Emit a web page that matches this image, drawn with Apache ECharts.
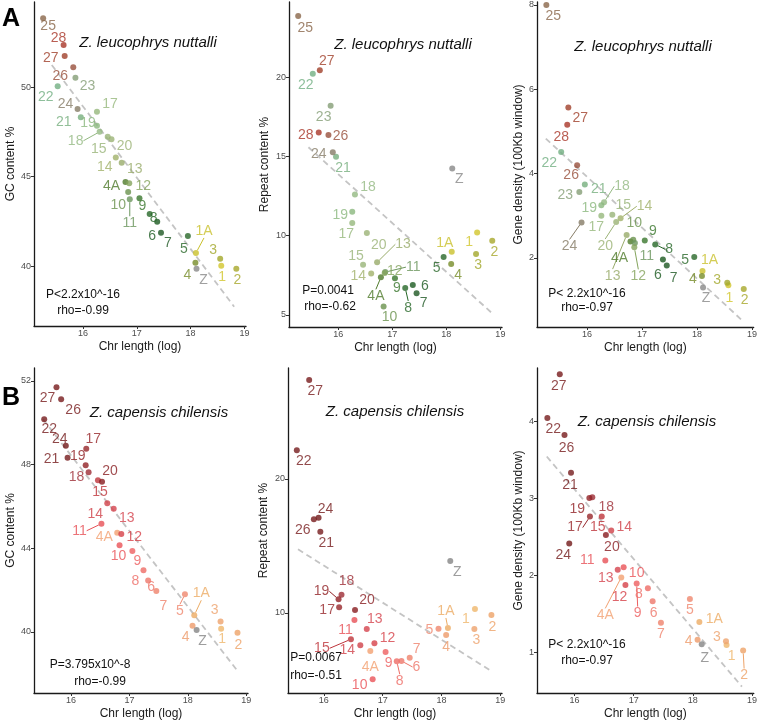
<!DOCTYPE html>
<html><head><meta charset="utf-8">
<script src="https://cdn.jsdelivr.net/npm/echarts@6/dist/echarts.min.js"></script>
<style>html,body{margin:0;padding:0;background:#fff}#c{width:760px;height:722px}</style>
</head><body><div id="c"></div>
<script>
// ---------------- DATA ----------------
const chrA = ['1','1A','2','3','4','4A','5','6','7','8','9','10','11','12','13','14','15','17','18','19','20','21','22','23','24','25','26','27','28','Z'];
const lenA = [18.57,18.10,18.85,18.55,18.09,16.79,17.95,17.38,17.45,17.24,17.05,16.84,16.87,16.86,16.72,16.61,16.46,16.26,16.31,16.26,16.53,15.96,15.53,15.86,15.90,15.26,15.82,15.66,15.64,18.11];
const gcA = [40.02,40.73,39.85,40.41,40.18,44.69,41.68,42.47,41.86,42.90,43.78,44.13,43.73,44.62,45.77,46.07,47.22,48.62,47.50,47.84,47.08,48.31,50.04,50.52,48.77,53.84,51.10,51.73,52.35,39.85];
const repeatA = [10.19,8.99,9.67,8.85,8.21,7.37,8.66,6.89,6.36,6.70,7.31,5.54,7.70,7.65,8.32,7.62,8.17,10.80,12.59,11.51,10.17,14.97,20.21,18.19,15.25,23.85,16.34,20.42,16.51,14.24];
const geneA = [1.35,1.69,1.26,1.41,1.57,2.39,2.02,1.96,1.82,2.32,2.41,2.43,2.35,2.25,2.54,2.94,3.02,3.00,3.32,3.25,2.85,3.74,4.51,3.56,2.84,8.00,4.20,5.57,5.16,1.30];

const chrB = ['1','1A','2','3','4','4A','5','6','7','8','9','10','11','12','13','14','15','17','18','19','20','21','22','24','26','27','Z'];
const lenB = [18.57,18.11,18.85,18.56,18.08,16.79,17.95,17.32,17.46,17.24,17.05,16.83,16.52,16.86,16.73,16.62,16.46,16.26,16.30,16.25,16.53,15.94,15.54,15.91,15.83,15.75,18.15];
const gcB = [40.14,40.79,39.95,40.49,40.29,44.74,41.79,42.45,41.95,42.94,43.86,44.14,45.17,44.68,45.88,46.15,47.25,48.76,47.63,47.97,47.18,48.33,50.17,48.90,51.12,51.70,40.08];
const repeatB = [10.30,8.88,9.85,8.81,8.36,7.16,8.83,6.42,6.66,6.40,7.09,5.05,9.48,7.74,8.81,7.59,8.04,10.42,11.37,11.02,10.22,16.07,22.14,17.11,16.99,27.39,13.88];
const geneB = [1.09,1.39,1.02,1.14,1.16,1.97,1.69,1.66,1.38,1.83,1.89,2.10,2.19,1.87,2.07,2.58,2.76,2.76,3.01,3.00,2.52,3.33,4.04,2.41,3.82,4.61,1.10];

// regression line end points [x0,x1] / [y0,y1]
const fitXgcA = [15.42,18.81], fitYgcA = [51.23,37.73];
const fitXrepA = [15.45,18.83], fitYrepA = [15.57,5.16];
const fitXgeneA = [15.25,18.81], fitYgeneA = [4.83,0.53];
const fitXgcB = [15.52,18.83], fitYgcB = [50.17,38.20];
const fitXrepB = [15.56,18.84], fitYrepB = [14.75,5.69];
const fitXgeneB = [15.53,18.83], fitYgeneB = [3.54,0.55];

const xTicks = [16,17,18,19];
const yTicksGcA = [40,45,50], yTicksRepA = [5,10,15,20], yTicksGeneA = [2,4,6,8];
const yTicksGcB = [40,44,48,52], yTicksRepB = [10,20], yTicksGeneB = [1,2,3,4];

const statsText = [
  ['P<2.2x10^-16','rho=-0.99'], ['P=0.0041','rho=-0.62'], ['P< 2.2x10^-16','rho=-0.97'],
  ['P=3.795x10^-8','rho=-0.99'], ['P=0.0067','rho=-0.51'], ['P< 2.2x10^-16','rho=-0.97']
];
const speciesA = 'Z. leucophrys nuttalli', speciesB = 'Z. capensis chilensis';

// ---------------- STYLES ----------------
const colA = {'1':'#D2C52C','1A':'#C9C02C','2':'#A8A72A','3':'#A3A82A','4':'#778C29','4A':'#4F7A2A','5':'#296829','6':'#1B5A21','7':'#1E5823','8':'#276828','9':'#3A772D','10':'#6A924E','11':'#6B965E','12':'#84A45C','13':'#98AB6A','14':'#A1B16A','15':'#98B478','17':'#96B87C','18':'#94B982','19':'#8BB87E','20':'#9BB376','21':'#77AF7E','22':'#72AF82','23':'#859D76','24':'#867C66','25':'#8A674A','26':'#98503C','27':'#A0402B','28':'#A93628','Z':'#888888'};
const colB = {'1':'#EFB66C','1A':'#ECAB64','2':'#EEA368','3':'#EEA26D','4':'#ED9B6A','4A':'#F2A070','5':'#EF876E','6':'#EE776A','7':'#EF826C','8':'#EE6C65','9':'#ED5F60','10':'#EA5258','11':'#E75056','12':'#D64148','13':'#D4434D','14':'#CF4148','15':'#BE353B','17':'#97272B','18':'#9E2D36','19':'#912225','20':'#871C1F','21':'#761B1D','22':'#761B1D','24':'#721919','26':'#771A1B','27':'#771A1B','Z':'#858585'};

// label offsets [dx, dy, leader]
const labA1 = {'25':[5,8],'28':[-5,-7],'27':[-14,2],'26':[-13,9],'23':[12,8],'22':[-12,11],'24':[-12,-5],'17':[13,-8],'21':[-17,5],'19':[-9,-3],'18':[-24,9,1],'15':[-9,12],'20':[13,7],'14':[-11,10],'13':[13,6],'4A':[-14,4],'12':[14,3],'10':[-10,13],'11':[0,24,1],'9':[3,8],'8':[4,4],'6':[-5,14],'7':[7,10],'5':[-4,13],'1A':[8,-22,1],'4':[-8,12],'Z':[7,11],'3':[-7,-9],'1':[1,11],'2':[1,11]};
const labA2 = {'25':[7,12],'27':[7,-9],'22':[-7,11],'23':[-7,11],'28':[-13,3],'26':[12,1],'24':[-14,2],'21':[7,11],'Z':[7,11],'18':[13,-7],'19':[-12,3],'17':[-6,11],'20':[12,12],'13':[26,-18,1],'15':[-7,-9],'14':[-13,3],'12':[10,-2],'11':[28,-5,1],'4A':[-5,19,1],'10':[6,11],'9':[2,10],'8':[3,20,1],'6':[12,1],'7':[7,10],'5':[-7,11],'1A':[-7,-9],'4':[7,11],'1':[-8,10],'3':[2,11],'2':[2,11]};
const labA3 = {'25':[7,11],'27':[12,11],'28':[-6,12],'22':[-12,11],'26':[-6,10],'21':[14,5],'23':[-14,3],'18':[18,-16,1],'19':[-12,3],'15':[11,-10],'17':[-5,11],'14':[24,-12,1],'24':[-12,24,1],'20':[-11,24,1],'10':[1,-17],'4A':[-11,17],'11':[12,13],'12':[4,29,1],'13':[-14,41,1],'9':[8,-9],'8':[14,5,1],'6':[-5,16],'7':[7,13],'5':[-9,3],'1A':[7,-11],'4':[-9,3],'Z':[3,11],'3':[-10,-3],'1':[1,13],'2':[1,11]};
const labB1 = {'27':[-9,11],'26':[12,11],'22':[5,10],'24':[-6,-7],'17':[7,-10],'21':[-16,1],'19':[-8,-9],'18':[-12,5],'20':[8,-11],'15':[2,12],'14':[-12,11],'13':[13,9],'11':[-22,7,1],'4A':[-13,4],'12':[13,3],'10':[-1,11],'9':[5,10],'8':[-8,11],'6':[3,7],'7':[7,15],'5':[-5,17,1],'1A':[7,-22,1],'4':[-7,11],'Z':[6,11],'3':[-6,-11],'1':[1,10],'2':[1,12]};
const labB2 = {'27':[6,11],'22':[7,11],'24':[7,-9],'26':[-11,11],'21':[6,12],'Z':[7,11],'18':[5,-13],'19':[-17,-8,1],'17':[-12,3],'20':[12,-10],'11':[-9,10],'13':[8,-10],'15':[-29,9,1],'12':[13,-5],'14':[-13,5],'4A':[0,16],'9':[3,11],'10':[-13,6],'8':[3,20,1],'6':[15,6,1],'7':[7,-9],'5':[-9,1],'1A':[-2,-17,1],'4':[0,12],'1':[-9,10],'3':[2,11],'2':[1,12]};
const labB3 = {'27':[-1,12],'22':[6,11],'26':[2,13],'21':[-1,12],'19':[-12,11],'18':[14,10],'17':[-15,11,1],'15':[-4,11],'14':[13,-3],'20':[6,12],'24':[-6,12],'11':[-18,0],'10':[13,6],'13':[-12,8],'4A':[-16,38,1],'12':[-6,12],'9':[1,30,1],'8':[-9,6],'6':[1,12],'7':[0,11],'5':[0,11],'1A':[15,-3],'4':[-9,1],'Z':[3,14],'3':[-9,-4],'1':[5,11],'2':[1,25,1]};

const FONT = '"Liberation Sans", Arial, Helvetica, sans-serif';

const panels = [
  {grid:{left:34,top:2,width:212,height:324}, x:[15.09,19.03], y:[36.65,54.75], yt:yTicksGcA, yname:'GC content %', gap:17,
   chr:chrA, xs:lenA, ys:gcA, col:colA, lab:labA1, fx:fitXgcA, fy:fitYgcA, title:speciesA, tpos:[148,43], stats:statsText[0], spos:[[83,295],[83,311]]},
  {grid:{left:289,top:2,width:213,height:325}, x:[15.09,19.03], y:[4.24,24.73], yt:yTicksRepA, yname:'Repeat content %', gap:18,
   chr:chrA, xs:lenA, ys:repeatA, col:colA, lab:labA2, fx:fitXrepA, fy:fitYrepA, title:speciesA, tpos:[403,45], stats:statsText[1], spos:[[328,291],[330,307]]},
  {grid:{left:537,top:2,width:217,height:325}, x:[15.09,19.03], y:[0.36,8.07], yt:yTicksGeneA, yname:'Gene density (100Kb window)', gap:12,
   chr:chrA, xs:lenA, ys:geneA, col:colA, lab:labA3, fx:fitXgeneA, fy:fitYgeneA, title:speciesA, tpos:[643,47], stats:statsText[2], spos:[[587,294],[587,308]]},
  {grid:{left:34,top:368,width:214,height:325}, x:[15.365,19.03], y:[37.07,52.62], yt:yTicksGcB, yname:'GC content %', gap:17,
   chr:chrB, xs:lenB, ys:gcB, col:colB, lab:labB1, fx:fitXgcB, fy:fitYgcB, title:speciesB, tpos:[159,413], stats:statsText[3], spos:[[90,665],[100,682]]},
  {grid:{left:288,top:368,width:214,height:325}, x:[15.39,19.03], y:[4.03,28.28], yt:yTicksRepB, yname:'Repeat content %', gap:18,
   chr:chrB, xs:lenB, ys:repeatB, col:colB, lab:labB2, fx:fitXrepB, fy:fitYrepB, title:speciesB, tpos:[395,412], stats:statsText[4], spos:[[316,658],[316,676]]},
  {grid:{left:537,top:368,width:219,height:325}, x:[15.365,19.03], y:[0.468,4.69], yt:yTicksGeneB, yname:'Gene density (100Kb window)', gap:12,
   chr:chrB, xs:lenB, ys:geneB, col:colB, lab:labB3, fx:fitXgeneB, fy:fitYgeneB, title:speciesB, tpos:[647,422], stats:statsText[5], spos:[[587,645],[587,661]]}
];

const grids = [], xAxes = [], yAxes = [], series = [], graphics = [];
panels.forEach((p, i) => {
  grids.push(Object.assign({containLabel:false}, p.grid));
  const axisCommon = {
    type:'value', gridIndex:i, splitLine:{show:false},
    axisLine:{show:true, lineStyle:{color:'#1a1a1a', width:1.3}},
    nameTextStyle:{fontSize:12, color:'#1a1a1a', fontFamily:FONT},
    nameLocation:'middle'
  };
  xAxes.push(Object.assign({}, axisCommon, {
    min:p.x[0], max:p.x[1], name:'Chr length (log)', nameGap:15,
    axisTick:{show:true, length:3, lineStyle:{color:'#333'}, customValues:xTicks},
    axisLabel:{fontSize:9, color:'#4D4D4D', margin:3, fontFamily:FONT, customValues:xTicks}
  }));
  yAxes.push(Object.assign({}, axisCommon, {
    min:p.y[0], max:p.y[1], name:p.yname, nameGap:p.gap, nameRotate:90,
    axisTick:{show:true, length:3, lineStyle:{color:'#333'}, customValues:p.yt},
    axisLabel:{fontSize:9, color:'#4D4D4D', margin:3, fontFamily:FONT, customValues:p.yt}
  }));
  series.push({
    type:'line', xAxisIndex:i, yAxisIndex:i, silent:true, symbol:'none', z:1,
    data:p.fx.map((x, k) => [x, p.fy[k]]),
    lineStyle:{color:'#C4C4C4', width:1.8, type:[6,4]}
  });
  const lab = p.lab, chr = p.chr;
  series.push({
    type:'scatter', xAxisIndex:i, yAxisIndex:i, z:3, symbolSize:6,
    data:chr.map((c, k) => ({
      value:[p.xs[k], p.ys[k]], name:c,
      itemStyle:{color:p.col[c]},
      label:{color:p.col[c]},
      labelLine:{show:!!(lab[c] && lab[c][2])}
    })),
    label:{show:true, formatter:'{b}', fontSize:14, fontFamily:FONT, position:'right'},
    labelLine:{lineStyle:{width:1}},
    labelLayout:function(params){
      const o = lab[chr[params.dataIndex]] || [0,10];
      const r = params.rect;
      return {x:r.x + r.width/2 + o[0], y:r.y + r.height/2 + o[1], align:'center', verticalAlign:'middle'};
    }
  });
  graphics.push({type:'text', x:p.tpos[0], y:p.tpos[1], style:{text:p.title, font:'italic 15px ' + FONT, fill:'#111', align:'center', verticalAlign:'middle'}});
  graphics.push({type:'text', x:p.spos[0][0], y:p.spos[0][1], style:{text:p.stats[0], font:'12px ' + FONT, fill:'#111', align:'center', verticalAlign:'middle'}});
  graphics.push({type:'text', x:p.spos[1][0], y:p.spos[1][1], style:{text:p.stats[1], font:'12px ' + FONT, fill:'#111', align:'center', verticalAlign:'middle'}});
});
graphics.push({type:'text', x:2, y:19, style:{text:'A', font:'bold 25px ' + FONT, fill:'#000', align:'left', verticalAlign:'middle'}});
graphics.push({type:'text', x:2, y:398, style:{text:'B', font:'bold 25px ' + FONT, fill:'#000', align:'left', verticalAlign:'middle'}});

const chart = echarts.init(document.getElementById('c'), null, {renderer:'canvas'});
chart.setOption({
  animation:false, backgroundColor:'#fff',
  textStyle:{fontFamily:FONT},
  grid:grids, xAxis:xAxes, yAxis:yAxes, series:series, graphic:graphics
});
</script></body></html>
